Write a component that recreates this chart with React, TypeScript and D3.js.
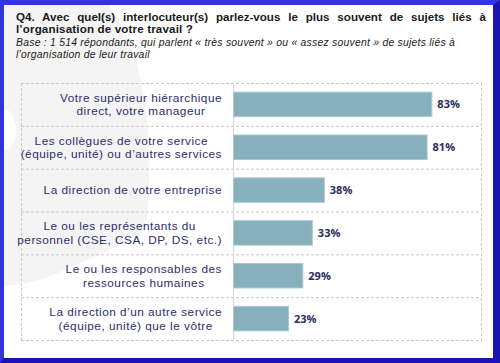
import React, { useEffect, useRef } from 'react'
import * as d3 from 'd3'

const categories = [
  ['Votre supérieur hiérarchique', 'direct, votre manageur'],
  ['Les collègues de votre service', '(équipe, unité) ou d’autres services'],
  ['La direction de votre entreprise'],
  ['Le ou les représentants du', 'personnel (CSE, CSA, DP, DS, etc.)'],
  ['Le ou les responsables des', 'ressources humaines'],
  ['La direction d’un autre service', '(équipe, unité) que le vôtre'],
]
const values = [83, 81, 38, 33, 29, 23]
const titleLines = [
  'Q4. Avec quel(s) interlocuteur(s) parlez-vous le plus souvent de sujets liés à',
  'l’organisation de votre travail ?',
]
const baseLines = [
  'Base : 1 514 répondants, qui parlent « très souvent » ou « assez souvent » de sujets liés à',
  'l’organisation de leur travail',
]

const W = 500
const H = 363
const FONT = '"Liberation Sans", Arial, sans-serif'
const VFONT = '"Open Sans", sans-serif'

// ajuste l'interlettrage pour qu'un texte fasse la largeur voulue
const fitSpacing = (node: SVGTextContentElement, target: number) => {
  const w = node.getComputedTextLength()
  return (target - w) / node.getNumberOfChars()
}

export default function App() {
  const ref = useRef<SVGSVGElement>(null)

  useEffect(() => {
    const svg = d3.select(ref.current)
    svg.selectAll('*').remove()

    // cadre bleu
    svg.append('rect').attr('width', W).attr('height', H).attr('fill', '#1b14b2')
    svg.append('path').attr('d', `M0,0 L${W},0 L${W - 7},5 L4,5 L4,${H - 5} L0,${H} Z`).attr('fill', '#3434dc')
    svg.append('rect').attr('x', 4).attr('y', 5).attr('width', W - 11).attr('height', H - 10).attr('fill', '#fff')

    // filigrane gris
    svg.append('path')
      .attr('d', 'M4,5 L108,5 C138,40 152,110 149,190 C148,215 146,228 140,236 L60,272 C40,281 20,285 4,286 L4,150 C14,148 17,138 16,128 C15,116 10,110 4,108 Z')
      .attr('fill', '#f4f4f4')

    // titre (justifié)
    const left = 16, right = 486
    const t1 = svg.append('text')
      .attr('x', left).attr('y', 20.5)
      .attr('font-family', FONT).attr('font-weight', 700).attr('font-size', 11.6)
      .attr('fill', '#1a1a1a').text(titleLines[0])
    const w1 = (t1.node() as SVGTextElement).getComputedTextLength()
    t1.attr('word-spacing', (right - left - w1) / (titleLines[0].split(' ').length - 1))
    const t2 = svg.append('text')
      .attr('x', left).attr('y', 33.3)
      .attr('font-family', FONT).attr('font-weight', 700).attr('font-size', 11.6)
      .attr('fill', '#1a1a1a').text(titleLines[1])
    t2.attr('letter-spacing', fitSpacing(t2.node() as SVGTextElement, 177))

    // base
    let baseLs = 0
    baseLines.forEach((line, i) => {
      const t = svg.append('text')
        .attr('x', left).attr('y', 46 + i * 11.8)
        .attr('font-family', FONT).attr('font-style', 'italic').attr('font-size', 10.4)
        .attr('fill', '#1a1a1a').text(line)
      if (i === 0) baseLs = fitSpacing(t.node() as SVGTextElement, 439)
      t.attr('letter-spacing', baseLs)
    })

    // tableau
    const x0 = 21, xMid = 233, x1 = 481
    const y = d3.scaleBand<number>().domain(d3.range(values.length)).range([83, 340])
    const x = d3.scaleLinear().domain([0, 100]).range([xMid, xMid + 239])
    const grid = '#c9c9c9'

    const g = svg.append('g')
    y.domain().forEach(i => {
      g.append('line').attr('x1', x0).attr('x2', x1).attr('y1', y(i)! + 0.5).attr('y2', y(i)! + 0.5)
        .attr('stroke', grid).attr('stroke-dasharray', '3,2')
    })
    g.append('line').attr('x1', x0).attr('x2', x1).attr('y1', 340.5).attr('y2', 340.5)
      .attr('stroke', grid).attr('stroke-dasharray', '3,2')
    ;[x0, x1].forEach(xx => {
      g.append('line').attr('x1', xx + 0.5).attr('x2', xx + 0.5).attr('y1', 83).attr('y2', 341)
        .attr('stroke', grid).attr('stroke-dasharray', '3,2')
    })
    g.append('line').attr('x1', xMid + 0.5).attr('x2', xMid + 0.5).attr('y1', 83).attr('y2', 341)
      .attr('stroke', '#d6d6d6')

    const bh = 24.5
    g.selectAll('rect.bar').data(values).join('rect')
      .attr('class', 'bar')
      .attr('x', x(0) + 0.5)
      .attr('y', (d, i) => y(i)! + y.bandwidth() / 2 - bh / 2)
      .attr('width', d => x(d) - x(0))
      .attr('height', bh)
      .attr('fill', '#88b0bc').attr('stroke', '#a9c9d2').attr('stroke-width', 1)

    g.selectAll('text.val').data(values).join('text')
      .attr('class', 'val')
      .attr('x', d => x(d) + 6)
      .attr('y', (d, i) => y(i)! + y.bandwidth() / 2 + 4)
      .attr('font-family', VFONT).attr('font-weight', 700).attr('font-size', 11)
      .attr('fill', '#2b2b5c')
      .text(d => d + '%')

    // libellés : bloc aligné à droite, lignes centrées
    const labelRight = 222
    let labelLs: number | null = null
    categories.forEach((lines, i) => {
      const cy = y(i)! + y.bandwidth() / 2
      const texts = lines.map((line, j) => g.append('text')
        .attr('y', cy + 4.2 + (j - (lines.length - 1) / 2) * 13.6)
        .attr('font-family', FONT).attr('font-size', 11.8)
        .attr('fill', '#2e2e6a').attr('text-anchor', 'middle')
        .text(line))
      if (labelLs === null) labelLs = fitSpacing(texts[0].node() as SVGTextElement, 162)
      texts.forEach(t => t.attr('letter-spacing', labelLs))
      const maxW = d3.max(texts, t => (t.node() as SVGTextElement).getComputedTextLength())!
      texts.forEach(t => t.attr('x', labelRight - maxW / 2))
    })
  }, [])

  return <svg ref={ref} width={W} height={H} style={{ position: 'absolute', left: 0, top: 0 }} />
}
